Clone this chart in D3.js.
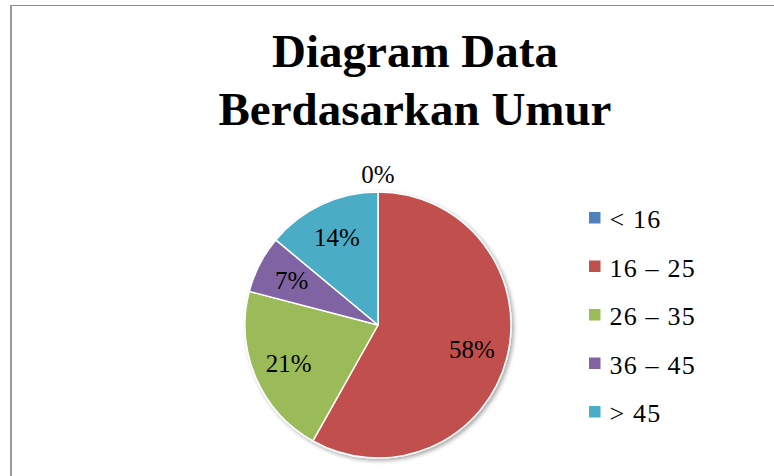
<!DOCTYPE html>
<html>
<head>
<meta charset="utf-8">
<script src="https://cdn.jsdelivr.net/npm/d3@7"></script>
</head>
<body style="margin:0">
<svg id="chart" width="774" height="476"></svg>
<script>
const categories = ["< 16", "16 – 25", "26 – 35", "36 – 45", "> 45"];
const values = [0, 25, 9, 3, 6];
const percentLabels = ["0%", "58%", "21%", "7%", "14%"];
const colors = ["#4F81BD", "#C0504D", "#9BBB59", "#8064A2", "#4BACC6"];
const titleLines = ["Diagram Data", "Berdasarkan Umur"];

const svg = d3.select("#chart");
const W = 774, H = 476;
const FONT = "Liberation Serif";

// frame lines
svg.append("line").attr("x1", 10).attr("x2", W).attr("y1", 5.5).attr("y2", 5.5)
  .attr("stroke", "#8c8c8c").attr("stroke-width", 1.2);
svg.append("line").attr("x1", 11).attr("x2", 11).attr("y1", 5).attr("y2", H)
  .attr("stroke", "#9a9a9a").attr("stroke-width", 2);

// title
titleLines.forEach((t, i) => {
  svg.append("text")
    .attr("x", 415).attr("y", 67 + i * 58)
    .attr("text-anchor", "middle")
    .attr("font-family", FONT)
    .attr("font-weight", "bold")
    .attr("font-size", 47)
    .attr("fill", "#000")
    .text(t);
});

// shadow filter
const defs = svg.append("defs");
const f = defs.append("filter").attr("id", "shadow").attr("x", "-20%").attr("y", "-20%").attr("width", "140%").attr("height", "140%");
f.append("feGaussianBlur").attr("in", "SourceAlpha").attr("stdDeviation", 2);
f.append("feOffset").attr("dx", 1.5).attr("dy", 2).attr("result", "ob");
f.append("feComponentTransfer").append("feFuncA").attr("type", "linear").attr("slope", 0.35);
const m = f.append("feMerge");
m.append("feMergeNode");
m.append("feMergeNode").attr("in", "SourceGraphic");

const cx = 378, cy = 325, R = 133;
const pie = d3.pie().sort(null).value(d => d)(values);
const arc = d3.arc().innerRadius(0).outerRadius(R);
const g = svg.append("g").attr("transform", `translate(${cx},${cy})`);

g.append("g").attr("filter", "url(#shadow)")
  .selectAll("path").data(pie).join("path")
  .attr("d", arc)
  .attr("fill", (d, i) => colors[i])
  .attr("stroke", "#fff")
  .attr("stroke-width", 1.5)
  .attr("stroke-linejoin", "round");

const labelArc = d3.arc().innerRadius(97).outerRadius(97);
const outArc = d3.arc().innerRadius(151).outerRadius(151);
g.selectAll("text.lbl").data(pie).join("text")
  .attr("class", "lbl")
  .attr("transform", d => {
    const c = (d.data === 0 ? outArc : labelArc).centroid(d);
    return `translate(${c[0]},${c[1]})`;
  })
  .attr("text-anchor", "middle")
  .attr("dy", "0.35em")
  .attr("font-family", FONT)
  .attr("font-size", 25)
  .attr("fill", "#000")
  .text((d, i) => percentLabels[i]);

// legend
const leg = svg.append("g").attr("transform", "translate(589,218)");
const items = leg.selectAll("g").data(categories).join("g")
  .attr("transform", (d, i) => `translate(0,${i * 48.5})`);
items.append("rect").attr("x", 0).attr("y", -6).attr("width", 11.5).attr("height", 11.5)
  .attr("fill", (d, i) => colors[i]);
items.append("text").attr("x", 20.5).attr("y", 10)
  .attr("font-family", FONT)
  .attr("font-size", 26)
  .attr("letter-spacing", 1.2)
  .attr("fill", "#000")
  .text(d => d);
</script>
</body>
</html>
